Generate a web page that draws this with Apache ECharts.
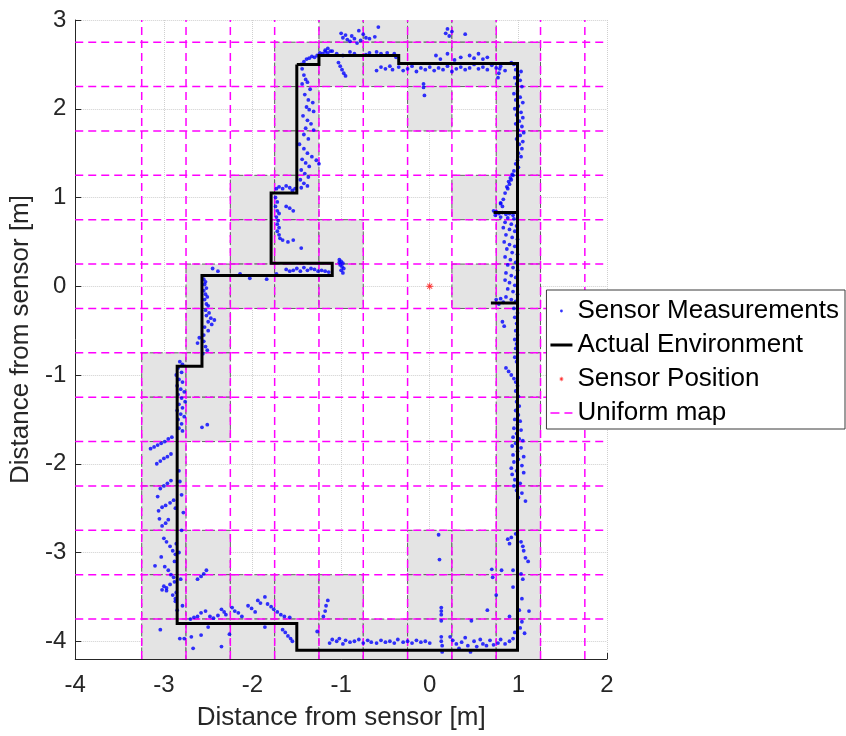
<!DOCTYPE html>
<html><head><meta charset="utf-8">
<script src="https://cdn.jsdelivr.net/npm/echarts@6/dist/echarts.min.js"></script>
<style>html,body{margin:0;padding:0;background:#fff}#c{width:846px;height:736px}</style>
</head><body><div id="c"></div>
<script>
// ---------- data ----------
const xTicks = [-4, -3, -2, -1, 0, 1, 2];
const yTicks = [-4, -3, -2, -1, 0, 1, 2, 3];
const xRange = [-4, 2];
const yRange = [-4.2, 3];
const cellSize = 0.5;
const mapLinesX = [-3.25, -2.75, -2.25, -1.75, -1.25, -0.75, -0.25, 0.25, 0.75, 1.25, 1.75];
const mapLinesY = [2.75, 2.25, 1.75, 1.25, 0.75, 0.25, -0.25, -0.75, -1.25, -1.75, -2.25, -2.75, -3.25, -3.75];
const occupiedCells = [
  [-1,3],[-0.5,3],[0,3],[0.5,3],
  [-1.5,2.5],[-1,2.5],[-0.5,2.5],[0,2.5],[0.5,2.5],[1,2.5],
  [-1.5,2],[0,2],[1,2],
  [-1.5,1.5],[1,1.5],
  [-2,1],[-1.5,1],[0.5,1],[1,1],
  [-2,0.5],[-1.5,0.5],[-1,0.5],[1,0.5],
  [-2.5,0],[-2,0],[-1.5,0],[-1,0],[0.5,0],[1,0],
  [-2.5,-0.5],[1,-0.5],
  [-3,-1],[-2.5,-1],[1,-1],
  [-3,-1.5],[-2.5,-1.5],[1,-1.5],
  [-3,-2],[1,-2],
  [-3,-2.5],[1,-2.5],
  [-3,-3],[-2.5,-3],[0,-3],[0.5,-3],[1,-3],
  [-3,-3.5],[-2.5,-3.5],[-2,-3.5],[-1.5,-3.5],[-1,-3.5],[0,-3.5],[0.5,-3.5],[1,-3.5],
  [-3,-4],[-2.5,-4],[-2,-4],[-1.5,-4],[-1,-4],[-0.5,-4],[0,-4],[0.5,-4],[1,-4]
];
const environment = [
  [-1.5,2.5],[-1.25,2.5],[-1.25,2.6],[-0.35,2.6],[-0.35,2.51],[0.99,2.51],
  [0.99,0.83],[0.72,0.83],[0.99,0.83],[0.99,-0.19],[0.69,-0.19],[0.99,-0.19],
  [0.99,-4.1],[-1.5,-4.1],[-1.5,-3.8],[-2.85,-3.8],[-2.85,-0.9],[-2.57,-0.9],
  [-2.57,0.12],[-1.1,0.12],[-1.1,0.26],[-1.79,0.26],[-1.79,1.05],[-1.5,1.05],[-1.5,2.5]
];
const sensorPosition = [[0, 0]];
const measurements = [
  // upper-left wall and corner
  [-1.45,2.5],[-1.42,2.53],[-1.39,2.56],[-1.36,2.57],[-1.33,2.59],[-1.3,2.58],[-1.27,2.6],[-1.24,2.63],[-1.21,2.62],[-1.18,2.64],[-1.15,2.63],[-1.12,2.65],
  [-1.44,2.45],[-1.42,2.38],[-1.40,2.33],[-1.38,2.30],[-1.44,2.28],[-1.35,2.22],[-1.41,2.16],[-1.37,2.1],[-1.32,2.07],[-1.39,2.02],[-1.36,1.99],[-1.31,1.97],
  [-1.43,1.92],[-1.38,1.87],[-1.34,1.83],[-1.40,1.78],[-1.31,1.76],[-1.42,1.71],[-1.37,1.66],[-1.47,1.6],[-1.42,1.55],[-1.38,1.5],[-1.33,1.46],[-1.28,1.42],
  [-1.25,1.38],[-1.44,1.43],[-1.40,1.39],[-1.36,1.35],[-1.45,1.31],[-1.41,1.27],[-1.37,1.23],[-1.46,1.2],[-1.42,1.16],[-1.38,1.13],[-1.45,1.11],
  [-1.03,2.52],[-1.01,2.48],[-0.99,2.44],[-0.97,2.4],[-0.95,2.37],
  // top
  [-1.0,2.85],[-0.98,2.8],[-0.95,2.83],[-0.93,2.78],[-0.9,2.76],[-0.88,2.82],[-0.85,2.79],[-0.82,2.74],[-0.8,2.88],[-0.78,2.77],[-0.75,2.84],[-0.72,2.8],
  [-0.68,2.79],[-0.62,2.81],[-0.58,2.92],[0.18,2.85],[0.2,2.9],[0.22,2.82],[0.25,2.87],[0.4,2.84],
  [-1.18,2.66],[-1.15,2.68],[-1.1,2.65],[-1.05,2.62],[-0.98,2.6],[-0.9,2.64],[-0.85,2.62],[-0.72,2.61],[-0.68,2.63],[-0.6,2.64],[-0.55,2.62],[-0.48,2.63],
  [-0.4,2.62],[-0.38,2.58],
  [-0.6,2.43],[-0.55,2.47],[-0.5,2.45],[-0.45,2.48],[-0.42,2.44],[-0.35,2.47],[-0.3,2.43],[-0.25,2.45],[-0.2,2.48],[-0.15,2.42],[-0.1,2.46],[-0.05,2.44],
  [0.0,2.47],[0.05,2.43],[0.1,2.46],[0.15,2.44],[0.2,2.48],[0.25,2.42],[0.3,2.45],[0.35,2.47],[0.4,2.44],[0.45,2.46],[0.5,2.5],[0.55,2.45],[0.6,2.47],
  [0.65,2.44],[0.7,2.49],[0.75,2.46],[0.8,2.48],[0.85,2.43],
  [0.07,2.6],[0.12,2.56],[0.2,2.62],[0.28,2.55],[0.35,2.58],[0.45,2.6],[0.5,2.57],[0.55,2.62],[0.6,2.56],[0.65,2.58],
  [-0.07,2.28],[-0.07,2.24],[-0.06,2.15],[0.79,2.45],[0.78,2.4],[0.77,2.35],
  // right wall, upper
  [0.92,2.52],[0.95,2.5],[0.97,2.44],[1.03,2.42],[1.0,2.38],[0.96,2.35],[1.02,2.32],[0.98,2.28],[1.04,2.25],[0.99,2.2],[0.95,2.17],[1.02,2.13],[0.97,2.1],
  [1.05,2.07],[1.0,2.03],[0.96,2.0],[1.03,1.96],[0.98,1.93],[1.05,1.9],[1.01,1.86],[0.97,1.83],[1.04,1.8],[1.0,1.76],[1.06,1.73],[1.02,1.7],[0.98,1.66],
  [1.05,1.63],[1.01,1.6],[1.04,1.55],[1.0,1.5],[1.03,1.46],[0.99,1.42],[0.97,1.38],[1.0,1.34],[0.95,1.3],[0.93,1.26],[0.91,1.22],[0.89,1.18],[0.87,1.12],
  [0.85,1.05],[0.83,0.98],[0.8,0.93],[0.94,1.25],[0.92,1.2],[0.9,1.15],[0.88,1.1],[0.8,0.94],[0.82,0.9],
  // right wall, between the two stubs
  [0.72,0.85],[0.75,0.84],[0.78,0.82],[0.82,0.83],[0.86,0.81],[0.9,0.82],[0.94,0.8],[0.98,0.83],[0.74,0.8],[0.8,0.78],[0.88,0.77],[0.95,0.76],[0.85,0.72],
  [0.92,0.7],[0.98,0.68],[0.83,0.66],[0.9,0.64],[0.96,0.62],[0.86,0.58],[0.93,0.55],[0.99,0.53],[0.84,0.5],[0.9,0.47],[0.96,0.45],[0.87,0.42],[0.93,0.38],
  [0.99,0.36],[0.85,0.33],[0.91,0.3],[0.97,0.27],[0.88,0.24],[0.94,0.21],[0.99,0.18],[0.86,0.15],[0.92,0.12],[0.97,0.1],[0.85,0.07],[0.9,0.04],[0.96,0.01],
  [0.88,-0.03],[0.94,-0.06],[0.99,-0.09],[0.86,-0.12],[0.8,-0.14],[0.75,-0.15],[0.92,-0.15],[0.97,-0.17],[0.83,-0.18],[0.78,-0.2],
  // right wall, lower
  [0.95,-0.25],[0.99,-0.3],[0.96,-0.35],[0.82,-0.4],[0.84,-0.45],[0.98,-0.42],[0.97,-0.5],[0.99,-0.55],[0.96,-0.6],[0.98,-0.65],[0.97,-0.7],[0.99,-0.75],
  [0.96,-0.8],[0.98,-0.85],[0.86,-0.92],[0.89,-0.96],[0.92,-1.0],[0.95,-1.04],[0.97,-1.08],[0.99,-1.12],[0.97,-1.18],[1.0,-1.24],[0.98,-1.3],[1.01,-1.35],
  [0.97,-1.4],[1.0,-1.45],[0.96,-1.5],[1.02,-1.52],[0.99,-1.56],[0.95,-1.6],[1.03,-1.62],[0.98,-1.66],[0.94,-1.7],[1.01,-1.72],[1.05,-1.74],[0.97,-1.77],
  [0.93,-1.8],[1.03,-1.82],[0.99,-1.86],[0.94,-1.9],[1.06,-1.92],[1.0,-1.95],[0.95,-1.98],[1.04,-2.02],[0.92,-2.05],[0.98,-2.08],[1.06,-2.1],[0.93,-2.12],
  [0.96,-2.18],[1.02,-2.22],[0.95,-2.25],[0.98,-2.3],[1.04,-2.33],[1.0,-2.38],[1.08,-2.42],
  // lower right corner area
  [0.10,-2.8],[0.11,-3.08],[0.88,-2.85],[0.92,-2.83],[0.9,-2.9],[0.97,-2.79],[1.03,-2.88],[1.05,-2.93],[1.06,-2.98],[1.08,-3.06],[1.11,-3.1],
  [0.7,-3.19],[0.71,-3.28],[0.81,-3.2],[0.94,-3.2],[1.03,-3.24],[1.05,-3.3],[0.94,-3.39],[0.75,-3.48],[1.04,-3.52],[0.65,-3.65],[0.9,-3.72],
  [1.01,-3.65],[1.04,-3.78],[1.07,-3.91],[1.12,-3.66],[0.13,-3.62],[0.13,-3.66],[0.13,-3.7],[0.13,-3.77],[0.47,-3.77],
  // bottom wall
  [-1.13,-4.02],[-1.1,-3.98],[-1.05,-4.0],[-1.02,-3.97],[-0.98,-4.03],[-0.95,-3.99],[-0.9,-4.01],[-0.85,-4.0],[-0.8,-3.98],[-0.75,-4.02],[-0.7,-3.99],
  [-0.66,-4.01],[-0.6,-4.02],[-0.55,-3.99],[-0.5,-4.01],[-0.45,-4.0],[-0.4,-4.02],[-0.36,-3.98],[-0.3,-4.01],[-0.25,-4.0],[-0.2,-4.02],[-0.15,-3.99],
  [-0.1,-4.01],[-0.05,-4.0],[0.0,-4.02],
  [0.13,-3.95],[0.13,-4.0],[0.14,-4.05],[0.14,-4.12],[0.23,-3.95],[0.26,-3.99],[0.3,-4.03],[0.33,-4.08],[0.36,-4.01],[0.4,-3.96],[0.43,-4.05],[0.46,-4.12],
  [0.5,-4.0],[0.53,-4.06],[0.57,-3.98],[0.6,-4.03],[0.64,-4.05],[0.68,-3.99],[0.72,-4.04],[0.77,-4.02],[0.8,-3.98],[0.85,-4.03],[0.9,-4.0],[0.94,-3.97],
  [0.96,-3.9],[1.02,-3.85],
  [-1.27,-3.89],[-1.2,-3.72],[-1.18,-3.66],[-1.17,-3.6],[-1.15,-3.54],
  // lower-left step
  [-2.7,-3.75],[-2.66,-3.73],[-2.62,-3.72],[-2.58,-3.68],[-2.53,-3.66],[-2.48,-3.72],[-2.44,-3.74],[-2.39,-3.71],[-2.35,-3.64],[-2.32,-3.67],[-2.3,-3.7],
  [-2.23,-3.62],[-2.2,-3.66],[-2.16,-3.68],[-2.12,-3.72],[-2.05,-3.6],[-2.01,-3.63],[-1.97,-3.67],[-1.94,-3.54],[-1.91,-3.57],[-1.86,-3.5],[-1.83,-3.58],
  [-1.79,-3.61],[-1.76,-3.64],[-1.72,-3.67],[-1.68,-3.7],[-1.64,-3.72],[-1.58,-3.73],
  [-2.62,-3.3],[-2.58,-3.27],[-2.55,-3.24],[-2.52,-3.2],
  [-3.04,-3.87],[-2.82,-3.97],[-2.77,-3.97],[-2.69,-3.95],[-2.67,-4.08],[-2.58,-3.93],[-2.5,-3.84],[-2.35,-4.06],[-2.26,-3.92],[-1.86,-3.84],
  [-1.66,-3.87],[-1.63,-3.9],[-1.6,-3.94],[-1.57,-3.97],[-1.55,-4.0],
  // left lower wall
  [-2.82,-0.85],[-2.79,-0.88],[-2.84,-0.92],[-2.8,-0.97],[-2.86,-1.0],[-2.83,-1.05],[-2.79,-1.08],[-2.85,-1.12],[-2.81,-1.16],[-2.77,-1.19],[-2.84,-1.22],
  [-2.8,-1.26],[-2.76,-1.3],[-2.83,-1.33],[-2.79,-1.37],[-2.85,-1.4],[-2.81,-1.44],[-2.77,-1.47],[-2.84,-1.5],[-2.8,-1.55],[-2.83,-1.6],[-2.79,-1.63],
  [-2.57,-1.59],[-2.51,-1.56],
  [-3.15,-1.83],[-3.11,-1.81],[-3.07,-1.79],[-3.03,-1.77],[-2.99,-1.75],[-2.95,-1.72],[-2.91,-1.7],
  [-3.08,-2.0],[-3.04,-1.97],[-3.0,-1.94],[-2.96,-1.92],[-2.92,-1.89],[-3.04,-2.28],[-3.0,-2.25],[-2.96,-2.22],[-2.92,-2.19],
  [-3.06,-2.53],[-3.02,-2.49],[-2.98,-2.47],[-2.93,-2.44],[-2.89,-2.41],[-3.07,-2.37],[-3.05,-2.62],[-3.02,-2.7],[-2.98,-2.67],[-2.95,-2.63],
  [-3.0,-2.84],[-2.97,-2.88],[-2.93,-2.93],[-2.9,-2.98],[-2.87,-3.02],[-3.03,-3.05],[-3.1,-3.15],[-2.99,-3.16],[-2.95,-3.2],[-2.92,-3.25],[-2.89,-3.28],
  [-3.0,-3.38],[-2.97,-3.4],[-2.93,-3.36],[-2.88,-3.33],[-3.02,-3.42],[-2.97,-3.43],
  [-2.83,-2.08],[-2.82,-2.2],[-2.8,-2.35],[-2.78,-2.55],[-2.8,-2.75],[-2.83,-3.0],[-2.81,-3.3],[-2.79,-3.6],
  [-2.87,-2.5],[-2.86,-2.9],[-2.88,-3.1],[-2.86,-3.45],[-2.87,-3.55],[-2.85,-3.65],[-2.9,-3.48],[-2.87,-3.52],
  // left middle wall
  [-2.54,-0.15],[-2.52,-0.2],[-2.5,-0.22],[-2.53,-0.27],[-2.49,-0.3],[-2.52,-0.33],[-2.47,-0.36],[-2.43,-0.38],[-2.5,-0.4],[-2.46,-0.43],[-2.54,-0.46],
  [-2.5,-0.5],[-2.55,-0.55],[-2.6,-0.58],[-2.62,-0.64],[-2.55,-0.62],[-2.53,-0.68],[-2.51,-0.72],[-2.56,-0.76],
  [-2.55,0.08],[-2.53,0.05],[-2.54,0.02],[-2.52,-0.02],[-2.55,-0.05],[-2.53,-0.09],[-2.51,-0.12],
  // inner ledge
  [-2.45,0.2],[-2.39,0.17],[-2.14,0.14],[-2.03,0.09],[-1.84,0.08],[-1.73,0.14],[-1.62,0.19],[-1.58,0.17],[-1.54,0.18],[-1.5,0.2],[-1.46,0.17],[-1.42,0.21],
  [-1.38,0.18],[-1.34,0.2],[-1.3,0.19],[-1.26,0.17],[-1.22,0.18],[-1.18,0.17],[-1.14,0.16],
  [-1.02,0.3],[-1.0,0.28],[-0.98,0.26],[-1.01,0.24],[-0.99,0.22],[-0.97,0.2],[-1.0,0.18],[-0.98,0.15],[-1.02,0.27],
  // inner left wall
  [-1.73,1.1],[-1.7,1.12],[-1.66,1.1],[-1.62,1.13],[-1.58,1.11],[-1.55,1.08],[-1.52,1.1],
  [-1.74,1.0],[-1.72,0.95],[-1.74,0.9],[-1.72,0.85],[-1.7,0.82],[-1.73,0.78],[-1.71,0.74],[-1.72,0.7],[-1.7,0.66],[-1.72,0.62],[-1.7,0.58],[-1.69,0.54],
  [-1.62,0.9],[-1.58,0.88],[-1.54,0.85],[-1.66,0.52],[-1.6,0.5],[-1.54,0.52],[-1.45,0.43]
];

// ---------- chart ----------
const FONT = '"Liberation Sans", Arial, Helvetica, sans-serif';
const TXT = '#262626';
const chart = echarts.init(document.getElementById('c'), null, {renderer: 'canvas'});

const mapSeries = [];
mapLinesX.forEach(x => mapSeries.push({
  name: 'Uniform map', type: 'line', data: [[x, yRange[0]], [x, yRange[1]]],
  symbol: 'none', silent: true, z: 3, animation: false,
  lineStyle: {color: '#ff00ff', width: 1.5, type: [8, 5]}, itemStyle: {color: '#ff00ff'}
}));
mapLinesY.forEach(y => mapSeries.push({
  name: 'Uniform map', type: 'line', data: [[xRange[0], y], [xRange[1], y]],
  symbol: 'none', silent: true, z: 3, animation: false,
  lineStyle: {color: '#ff00ff', width: 1.5, type: [8, 5]}, itemStyle: {color: '#ff00ff'}
}));

const starPath = 'path://M-0.5,-4h1v8h-1z M-4,-0.5h8v1h-8z M-2.48,-3.18L3.18,2.48L2.48,3.18L-3.18,-2.48z M2.48,-3.18L3.18,-2.48L-2.48,3.18L-3.18,2.48z';
const legendDot = 'path://M-11,-7M11,7M-1.4,0a1.4,1.4 0 1,0 2.8,0a1.4,1.4 0 1,0 -2.8,0z';
const legendStar = 'path://M-11,-7M11,7M-0.3,-2.2h0.6v4.4h-0.6z M-2.2,-0.3h4.4v0.6h-4.4z M-1.35,-1.75L1.75,1.35L1.35,1.75L-1.75,-1.35z M1.35,-1.75L1.75,-1.35L-1.35,1.75L-1.75,1.35z';
const legendSolid = 'path://M0,0M22,14M0,5.5h22v3h-22z';
const legendDashed = 'path://M0,0M22,14M0,6.25h9v1.5h-9z M14,6.25h8v1.5h-8z';

const option = {
  animation: false,
  backgroundColor: '#fff',
  textStyle: {fontFamily: FONT},
  grid: {left: 71, right: 239, top: 20, bottom: 75, containLabel: false},
  xAxis: {
    type: 'value', min: xRange[0], max: xRange[1], interval: 0.1,
    name: 'Distance from sensor [m]', nameLocation: 'middle', nameGap: 46,
    nameTextStyle: {fontSize: 26, color: TXT, fontFamily: FONT},
    axisLine: {show: true, onZero: false, lineStyle: {color: TXT, width: 1}},
    axisTick: {show: true, inside: true, length: 6, customValues: xTicks, lineStyle: {color: TXT}},
    axisLabel: {customValues: xTicks, fontSize: 24, color: TXT, margin: 14, fontFamily: FONT},
    splitLine: {show: true, lineStyle: {color: '#cfcfcf', type: 'dotted', width: 1}}
  },
  yAxis: {
    type: 'value', min: yRange[0], max: yRange[1], interval: 0.1,
    name: 'Distance from sensor [m]', nameLocation: 'middle', nameGap: 36, nameRotate: 90,
    nameTextStyle: {fontSize: 26, color: TXT, fontFamily: FONT},
    axisLine: {show: true, onZero: false, lineStyle: {color: TXT, width: 1}},
    axisTick: {show: true, inside: true, length: 6, customValues: yTicks, lineStyle: {color: TXT}},
    axisLabel: {customValues: yTicks, fontSize: 24, color: TXT, margin: 9, fontFamily: FONT},
    splitLine: {show: true, lineStyle: {color: '#cfcfcf', type: 'dotted', width: 1}}
  },
  legend: {
    orient: 'vertical', right: 1, top: 290,
    padding: [8, 6, 3, 4], itemGap: 8, itemWidth: 22, itemHeight: 14,
    borderColor: '#3a3a3a', borderWidth: 1, backgroundColor: '#fff',
    textStyle: {fontSize: 26, color: '#000', fontFamily: FONT},
    selectedMode: false,
    data: [
      {name: 'Sensor Measurements', icon: legendDot, itemStyle: {color: '#0000ff', borderWidth: 0}},
      {name: 'Actual Environment', icon: legendSolid, itemStyle: {color: '#000', borderWidth: 0}},
      {name: 'Sensor Position', icon: legendStar, itemStyle: {color: '#ff0000', borderWidth: 0}},
      {name: 'Uniform map', icon: legendDashed, itemStyle: {color: '#ff00ff', borderWidth: 0}}
    ]
  },
  series: [
    {
      name: 'Occupied cells', type: 'custom', data: occupiedCells, clip: true, z: 1, silent: true,
      renderItem: function (params, api) {
        const cx = api.value(0), cy = api.value(1);
        const p1 = api.coord([cx - cellSize / 2, cy + cellSize / 2]);
        const p2 = api.coord([cx + cellSize / 2, cy - cellSize / 2]);
        return {
          type: 'rect',
          shape: {x: p1[0], y: p1[1], width: p2[0] - p1[0], height: p2[1] - p1[1]},
          style: {fill: '#e4e4e4', stroke: '#606060', lineWidth: 1, lineDash: [5, 3]}
        };
      }
    },
    ...mapSeries,
    {
      name: 'Sensor Measurements', type: 'scatter', data: measurements, z: 4,
      symbol: 'circle', symbolSize: 3.8, itemStyle: {color: '#0000ff'}, silent: true
    },
    {
      name: 'Actual Environment', type: 'line', data: environment, z: 5,
      symbol: 'none', lineStyle: {color: '#000', width: 3, join: 'miter'}, itemStyle: {color: '#000'}, silent: true
    },
    {
      name: 'Sensor Position', type: 'scatter', data: sensorPosition, z: 6,
      symbol: starPath, symbolSize: 7, itemStyle: {color: '#ff0000'}, silent: true
    }
  ]
};
chart.setOption(option);
</script></body></html>
